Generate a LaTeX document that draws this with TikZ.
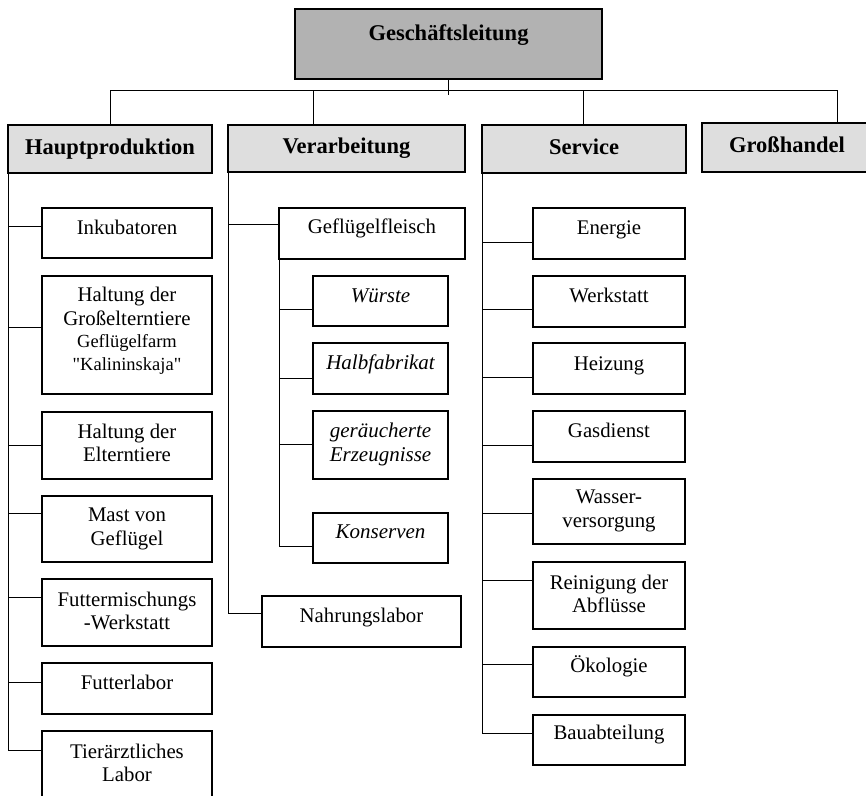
\documentclass[tikz,border=0pt]{standalone}
\usepackage{fontspec}
\setmainfont{Liberation Serif}
\newfontfamily\qfont{Liberation Serif}[Ligatures=TeXOff]
\newcommand\mybox[6]{\node[#6, minimum width={#3-#1}, minimum height={#4-#2}] (#5) at (#1,#2) {};}
\newcommand\myconn[3]{\draw[ln] (#1 |- 0,#3) -- (#2.west |- 0,#3);}
\begin{document}
\begin{tikzpicture}[x=1pt,y=-1pt,
  box/.style={draw, line width=1.1pt, outer sep=0pt, inner sep=0pt, anchor=north west},
  hdr/.style={box, fill=black!13},
  topbox/.style={box, line width=2.4pt, fill=black!30},
  ln/.style={line width=1pt},
  txt/.style={font=\fontsize{20.8}{23.5}\selectfont, align=center, inner sep=0pt},
  one/.style={txt, text height=14.1pt, text depth=4.5pt},
  ital/.style={one, font=\fontsize{21}{23.5}\selectfont\itshape},
  itall/.style={txt, font=\fontsize{21}{24}\selectfont\itshape},
  bold/.style={inner sep=0pt, font=\fontsize{22.5}{26}\selectfont\bfseries, text height=15.3pt, text depth=5pt}]
\useasboundingbox (0,0) rectangle (866,795);
\clip (0,0) rectangle (866,795);
\fill[white] (0,0) rectangle (866,795);

% top
\mybox{295}{9}{602}{79}{top}{topbox}
\node[bold] (ttop) at (448.5,35) {Geschäftsleitung};

% headers
\mybox{8}{125}{212}{173}{hp}{hdr}
\mybox{228}{125}{465}{172}{va}{hdr}
\mybox{482}{125}{686}{173}{sv}{hdr}
\mybox{702}{123}{872}{172}{gh}{hdr}
\node[bold] (thp) at (110,149) {Hauptproduktion};
\node[bold] (tva) at (346.5,148) {Verarbeitung};
\node[bold] (tsv) at (584,149) {Service};
\node[bold] (tgh) at (787,147) {Großhandel};

% bus
\coordinate (stemEnd) at (448.5,95);
\coordinate (busL) at (110,90);
\coordinate (busR) at (837,90);
\coordinate (vaT) at (313,90);
\coordinate (svT) at (583,90);
\draw[ln] (top.south) -- (stemEnd);
\draw[ln] (busL) -- (busR);
\draw[ln] (busL) -- (hp.north);
\draw[ln] (vaT) -- (vaT |- va.north);
\draw[ln] (svT) -- (svT |- sv.north);
\draw[ln] (busR) -- (busR |- gh.north);

% Hauptproduktion children
\mybox{42}{208}{212}{258}{inc}{box}
\mybox{42}{276}{212}{394}{hgt}{box}
\mybox{42}{412}{212}{479}{hel}{box}
\mybox{42}{496}{212}{562}{mast}{box}
\mybox{42}{579}{212}{646}{fut}{box}
\mybox{42}{663}{212}{714}{flab}{box}
\mybox{42}{731}{212}{805}{tier}{box}
\node[one] (tinc) at (127,230) {Inkubatoren};
\node[txt] (thgt) at (127,331) {Haltung der\\Großelterntiere\\[-1.5pt]{\fontsize{18.5}{22}\selectfont Geflügelfarm}\\{\fontsize{18.5}{22}\selectfont\qfont "Kalininskaja"}};
\node[txt] (thel) at (127,443) {Haltung der\\Elterntiere};
\node[txt] (tmast) at (127,529) {Mast von\\Geflügel};
\node[txt] (tfut) at (127,611) {Futtermischungs\\-Werkstatt};
\node[one] (tflab) at (127,685) {Futterlabor};
\node[txt] (ttier) at (127,763) {Tierärztliches\\Labor};
\draw[ln] (hp.south west) -- (hp.south west |- 0,750);
\myconn{hp.south west}{inc}{226}
\myconn{hp.south west}{hgt}{327}
\myconn{hp.south west}{hel}{445}
\myconn{hp.south west}{mast}{513}
\myconn{hp.south west}{fut}{597}
\myconn{hp.south west}{flab}{682}
\myconn{hp.south west}{tier}{750}

% Verarbeitung children
\mybox{279}{208}{465}{259}{gef}{box}
\mybox{313}{276}{448}{326}{wur}{box}
\mybox{313}{343}{448}{394}{hal}{box}
\mybox{313}{411}{448}{479}{ger}{box}
\mybox{313}{513}{448}{563}{kon}{box}
\mybox{262}{596}{461}{647}{nah}{box}
\node[one] (tgef) at (372,229) {Geflügelfleisch};
\node[ital] (twur) at (380.5,298) {Würste};
\node[ital] (thal) at (380.5,365) {Halbfabrikat};
\node[itall] (tger) at (380.5,444) {geräucherte\\Erzeugnisse};
\node[ital] (tkon) at (380.5,534) {Konserven};
\node[one] (tnah) at (361.5,618) {Nahrungslabor};
\draw[ln] (va.south west) -- (va.south west |- 0,613);
\myconn{va.south west}{gef}{224}
\myconn{va.south west}{nah}{613}
\draw[ln] (gef.south west) -- (gef.south west |- 0,546);
\myconn{gef.south west}{wur}{309}
\myconn{gef.south west}{hal}{378}
\myconn{gef.south west}{ger}{444}
\myconn{gef.south west}{kon}{546}

% Service children
\mybox{533}{208}{685}{259}{ene}{box}
\mybox{533}{276}{685}{327}{wer}{box}
\mybox{533}{343}{685}{394}{hei}{box}
\mybox{533}{411}{685}{462}{gas}{box}
\mybox{533}{479}{685}{544}{was}{box}
\mybox{533}{562}{685}{629}{rei}{box}
\mybox{533}{647}{685}{697}{oek}{box}
\mybox{533}{715}{685}{765}{bau}{box}
\node[one] (tene) at (609,230) {Energie};
\node[one] (twer) at (609,298) {Werkstatt};
\node[one] (thei) at (609,366) {Heizung};
\node[one] (tgas) at (609,433) {Gasdienst};
\node[txt] (twas) at (609,511) {Wasser-\\versorgung};
\node[txt] (trei) at (609,594) {Reinigung der\\Abflüsse};
\node[one] (toek) at (609,668) {Ökologie};
\node[one] (tbau) at (609,735) {Bauabteilung};
\draw[ln] (sv.south west) -- (sv.south west |- 0,733);
\myconn{sv.south west}{ene}{242}
\myconn{sv.south west}{wer}{309}
\myconn{sv.south west}{hei}{377}
\myconn{sv.south west}{gas}{445}
\myconn{sv.south west}{was}{513}
\myconn{sv.south west}{rei}{580}
\myconn{sv.south west}{oek}{664}
\myconn{sv.south west}{bau}{733}
\end{tikzpicture}
\end{document}
